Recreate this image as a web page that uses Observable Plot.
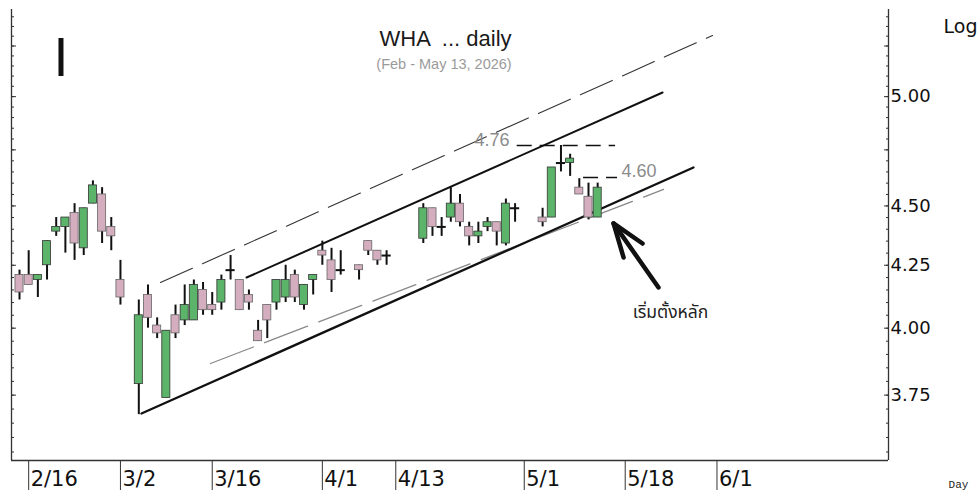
<!DOCTYPE html>
<html><head><meta charset="utf-8">
<script src="https://cdn.jsdelivr.net/npm/d3@7"></script>
<script src="https://cdn.jsdelivr.net/npm/@observablehq/plot@0.6"></script>
<style>
html,body{margin:0;padding:0;background:#fff;}
#chart{width:979px;height:490px;}
svg text{white-space:pre;}
</style></head><body><div id="chart"></div>
<script>
// ---- data: daily candles (trading days) ----
const dates = ["2026-02-13","2026-02-16","2026-02-17","2026-02-18","2026-02-19","2026-02-20","2026-02-23","2026-02-24","2026-02-25","2026-02-26","2026-02-27",
"2026-03-02","2026-03-04","2026-03-05","2026-03-06","2026-03-09","2026-03-10","2026-03-11","2026-03-12","2026-03-13","2026-03-16","2026-03-17","2026-03-18","2026-03-19","2026-03-20","2026-03-23","2026-03-24","2026-03-25","2026-03-26","2026-03-27","2026-03-30","2026-03-31",
"2026-04-01","2026-04-02","2026-04-03","2026-04-07","2026-04-08","2026-04-09","2026-04-10","2026-04-16","2026-04-17","2026-04-20","2026-04-21","2026-04-22","2026-04-23","2026-04-24","2026-04-27","2026-04-28","2026-04-29","2026-04-30",
"2026-05-05","2026-05-06","2026-05-07","2026-05-08","2026-05-11","2026-05-12","2026-05-13"];
const open  = [4.21,4.21,4.19,4.25,4.39,4.41,4.47,4.32,4.51,4.55,4.41,
4.19,3.79,4.13,4.01,3.74,4.05,4.03,4.03,4.15,4.09,4.10,4.23,4.19,4.13,3.99,4.09,4.10,4.12,4.21,4.09,4.19,
4.31,4.27,4.23,4.25,4.35,4.31,4.29,4.36,4.49,4.41,4.45,4.51,4.41,4.37,4.41,4.43,4.34,4.49,
4.45,4.45,4.69,4.69,4.58,4.54,4.45];
const high  = [4.23,4.31,4.21,4.35,4.45,4.45,4.51,4.49,4.61,4.58,4.45,
4.27,4.11,4.17,4.04,3.99,4.09,4.17,4.19,4.18,4.14,4.21,4.29,4.19,4.15,4.03,4.09,4.19,4.25,4.23,4.17,4.21,
4.35,4.32,4.31,4.25,4.35,4.31,4.31,4.51,4.49,4.45,4.58,4.55,4.43,4.43,4.45,4.43,4.53,4.51,
4.49,4.67,4.77,4.73,4.62,4.60,4.60];
const low   = [4.11,4.17,4.12,4.19,4.37,4.30,4.27,4.29,4.51,4.34,4.31,
4.09,3.68,4.00,3.96,3.74,3.96,4.01,4.03,4.05,4.05,4.07,4.19,4.07,4.07,3.95,3.96,4.07,4.10,4.10,4.07,4.13,
4.25,4.14,4.21,4.19,4.29,4.25,4.25,4.34,4.37,4.37,4.43,4.41,4.33,4.34,4.39,4.33,4.33,4.43,
4.41,4.45,4.65,4.63,4.55,4.44,4.45];
const close = [4.14,4.17,4.21,4.35,4.41,4.45,4.34,4.49,4.59,4.39,4.37,
4.12,4.05,4.04,3.98,3.99,3.98,4.09,4.17,4.07,4.07,4.19,4.23,4.07,4.10,3.95,4.03,4.19,4.19,4.12,4.17,4.21,
4.29,4.19,4.23,4.23,4.31,4.27,4.29,4.49,4.41,4.41,4.51,4.43,4.37,4.39,4.43,4.39,4.51,4.49,
4.43,4.67,4.69,4.71,4.55,4.45,4.58];

// ---- axis ticks ----
const xTickDates = ["2026-02-16","2026-03-02","2026-03-16","2026-04-01","2026-04-13","2026-05-01","2026-05-18","2026-06-01"];
const xTickLabels = ["2/16","3/2","3/16","4/1","4/13","5/1","5/18","6/1"];
const yLabelTicks = [3.75, 4.00, 4.25, 4.50, 5.00];
const yMajorTicks = [3.75, 4.00, 4.25, 4.50, 4.75, 5.00, 5.25];

// ---- drawn trend lines (x = trading-day slot, y = price) ----
const upperDashX = [15.36, 75.51],  upperDashY = [4.18, 5.303];
const upperSolidX = [24.74, 70.07], upperSolidY = [4.20, 5.02];
const lowerSolidX = [13.29, 73.44], lowerSolidY = [3.684, 4.67];
const lowerDashX = [20.81, 70.18],  lowerDashY = [3.866, 4.572];

// horizontal level marks
const levelValues = [4.77, 4.625];
const levelStart  = [54.23, 61.46];
const levelEnd    = [64.95, 65.16];
const levelText   = ["4.76", "4.60"];
const levelTextX  = [53.4, 65.6];
const levelTextY  = [4.793, 4.652];

// arrow + note
const arrowX = [69.63, 64.73, 65.82, 64.73, 67.89];
const arrowY = [4.160, 4.425, 4.282, 4.425, 4.340];
const arrowPart = ["shaft","shaft","head","head","head"];
const noteText = "เริ่มตั้งหลัก", noteX = 70.94, noteY = 4.061;
const markerX = [4.52], markerY1 = [5.288], markerY2 = [5.098];

const title = "WHA  ... daily";
const subtitle = "(Feb - May 13, 2026)";

// ---- build ----
const base = new Date("2026-02-13T00:00Z");
const slot = s => d3.utcDays(base, new Date(s + "T00:00Z")).filter(d => d.getUTCDay() % 6 !== 0).length;
const candles = dates.map((d, k) => ({i: slot(d), o: open[k], h: high[k], l: low[k], c: close[k]}));
const up = candles.filter(d => d.c > d.o), down = candles.filter(d => d.c < d.o), doji = candles.filter(d => d.c === d.o);
const xTicks = xTickDates.map((d, k) => ({i: slot(d), label: xTickLabels[k]}));
const minorTicks = d3.range(71, 109).map(k => +(k * 0.05).toFixed(2));
const levels = levelValues.map((v, k) => ({v, a: levelStart[k], b: levelEnd[k]}));
const levelLabels = levelText.map((t, k) => ({t, x: levelTextX[k], y: levelTextY[k]}));
const arrowPts = arrowX.map((x, k) => ({x, y: arrowY[k], z: arrowPart[k]}));
const seg = (X, Y) => X.map((x, k) => ({x, y: Y[k]}));

const xDomain = [-0.872, 94.69];
const yDomain = [3.521, 5.438];
const green = "#5cb36a", pink = "#d4aebf";
const axisFont = "'DejaVu Sans', Verdana, sans-serif";
const textFont = "'Liberation Sans', Arial, sans-serif";
const yMinor = minorTicks.filter(v => v > yDomain[0] && v < yDomain[1]);

const chart = Plot.plot({
  width: 979, height: 490,
  marginLeft: 11, marginRight: 91, marginTop: 9, marginBottom: 30,
  x: {type: "linear", domain: xDomain, axis: null, label: null},
  y: {type: "log", domain: yDomain, axis: null, label: null},
  style: {fontFamily: axisFont, background: "#fff", overflow: "visible"},
  marks: [
    // frame sides
    Plot.ruleX(xDomain, {stroke: "#333", strokeWidth: 1.3}),
    Plot.ruleY([yDomain[0]], {stroke: "#333", strokeWidth: 1.3}),
    // y minor/major ticks, both sides, inward
    Plot.axisY(yMinor, {anchor: "left", tickSize: -3, tickFormat: () => "", stroke: "#333"}),
    Plot.axisY(yMajorTicks, {anchor: "left", tickSize: -5, tickFormat: () => "", stroke: "#333"}),
    Plot.axisY(yMinor, {anchor: "right", tickSize: -3, tickFormat: () => "", stroke: "#333"}),
    Plot.axisY(yMajorTicks, {anchor: "right", tickSize: -5, tickFormat: () => "", stroke: "#333"}),
    Plot.axisY(yLabelTicks, {anchor: "right", tickSize: 0, tickPadding: 2, tickFormat: d => d.toFixed(2), fontSize: 18, fontFamily: axisFont, fill: "#111"}),
    // x separators + labels
    Plot.axisX(xTicks.map(d => d.i), {anchor: "bottom", tickSize: 30, tickFormat: () => "", stroke: "#333"}),
    Plot.text(xTicks, {x: "i", text: "label", frameAnchor: "bottom", dy: 19, dx: 2, textAnchor: "start", lineAnchor: "middle", fontSize: 21, fontFamily: axisFont, fill: "#111"}),
    // trend lines
    Plot.line(seg(upperDashX, upperDashY), {x: "x", y: "y", stroke: "#333", strokeWidth: 1.1, strokeDasharray: "35,11"}),
    Plot.line(seg(lowerDashX, lowerDashY), {x: "x", y: "y", stroke: "#888", strokeWidth: 1.3, strokeDasharray: "46,12"}),
    Plot.line(seg(upperSolidX, upperSolidY), {x: "x", y: "y", stroke: "#111", strokeWidth: 2}),
    Plot.line(seg(lowerSolidX, lowerSolidY), {x: "x", y: "y", stroke: "#111", strokeWidth: 2.3}),
    Plot.ruleY(levels, {y: "v", x1: "a", x2: "b", stroke: "#111", strokeWidth: 1.6, strokeDasharray: "15,8"}),
    // candles
    Plot.ruleX(candles, {x: "i", y1: "l", y2: "h", stroke: "#111", strokeWidth: 2}),
    Plot.rect(up, {x1: d => d.i - 0.44, x2: d => d.i + 0.44, y1: "o", y2: "c", fill: green, stroke: "#333", strokeWidth: 0.8}),
    Plot.rect(down, {x1: d => d.i - 0.44, x2: d => d.i + 0.44, y1: "o", y2: "c", fill: pink, stroke: "#666", strokeWidth: 0.8}),
    Plot.ruleY(doji, {y: "o", x1: d => d.i - 0.5, x2: d => d.i + 0.5, stroke: "#111", strokeWidth: 2}),
    // annotations
    Plot.text(levelLabels.slice(0, 1), {x: "x", y: "y", text: "t", textAnchor: "end", lineAnchor: "middle", fontSize: 18, fontFamily: textFont, fill: "#8c8c8c"}),
    Plot.text(levelLabels.slice(1), {x: "x", y: "y", text: "t", textAnchor: "start", lineAnchor: "middle", fontSize: 18, fontFamily: textFont, fill: "#8c8c8c"}),
    Plot.line(arrowPts, {x: "x", y: "y", z: "z", stroke: "#111", strokeWidth: 4.5, strokeLinecap: "round", strokeLinejoin: "round"}),
    Plot.text([noteText], {x: () => noteX, y: () => noteY, text: d => d, lineAnchor: "middle", fontSize: 17.5, fontFamily: "Tahoma, 'Noto Sans Thai', 'Noto Sans', sans-serif", fill: "#222"}),
    Plot.ruleX(markerX, {x: d => d, y1: () => markerY1[0], y2: () => markerY2[0], stroke: "#111", strokeWidth: 5}),
    Plot.text([title], {text: d => d, frameAnchor: "top", dx: -4.5, dy: 29, lineAnchor: "middle", fontSize: 22, fontFamily: textFont, fill: "#1a1a1a"}),
    Plot.text([subtitle], {text: d => d, frameAnchor: "top", dx: -6, dy: 55, lineAnchor: "middle", fontSize: 14.5, fontFamily: textFont, fill: "#9a9a9a"}),
    Plot.text(["Log"], {text: d => d, frameAnchor: "top-right", dx: 72, dy: 17, textAnchor: "middle", lineAnchor: "middle", fontSize: 19, fontFamily: axisFont, fill: "#111"}),
    Plot.text(["Day"], {text: d => d, frameAnchor: "bottom-right", dx: 70, dy: 24, textAnchor: "middle", lineAnchor: "middle", fontSize: 11, fontFamily: "'Liberation Mono', 'DejaVu Sans Mono', monospace", fill: "#222"})
  ]
});
document.getElementById("chart").append(chart);
</script></body></html>
